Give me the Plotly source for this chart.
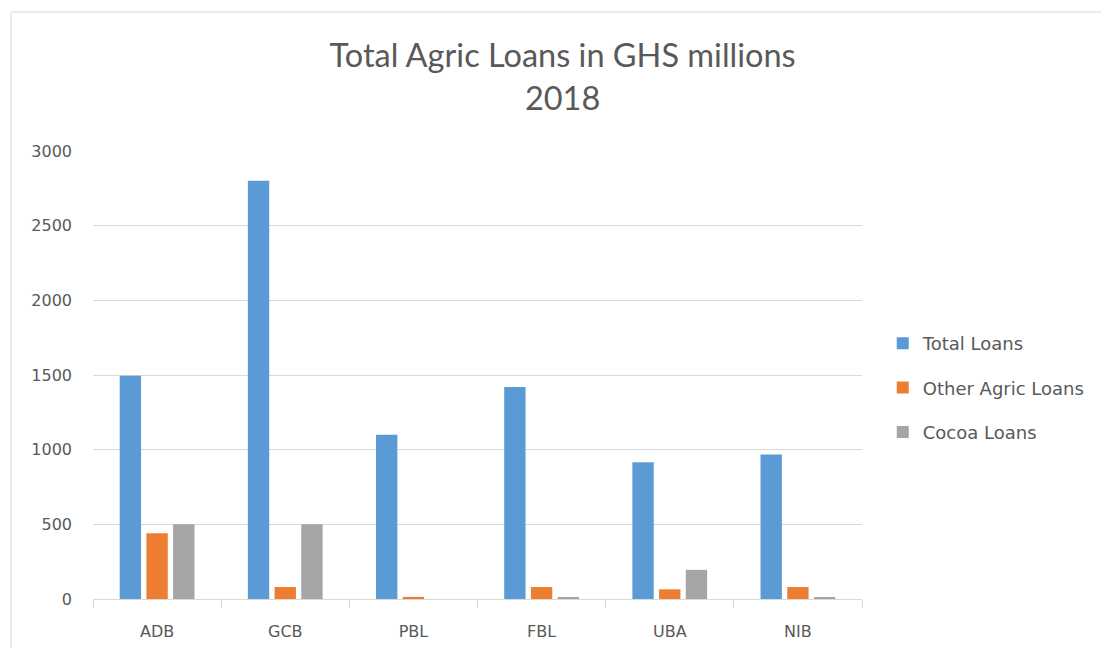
import plotly.graph_objects as go

banks = ["ADB", "GCB", "PBL", "FBL", "UBA", "NIB"]
total_loans = [1495, 2800, 1100, 1420, 915, 967]
other_agric_loans = [440, 80, 14, 80, 65, 80]
cocoa_loans = [500, 500, 0, 12, 195, 12]
y_ticks = [0, 500, 1000, 1500, 2000, 2500, 3000]

series = [
    ("Total Loans", total_loans, "#5B9BD5"),
    ("Other Agric Loans", other_agric_loans, "#ED7D31"),
    ("Cocoa Loans", cocoa_loans, "#A5A5A5"),
]

fig = go.Figure()
for i, (name, vals, col) in enumerate(series):
    fig.add_trace(go.Bar(
        x=banks, y=vals, name=name, marker=dict(color=col, line=dict(width=0)),
        legendgroup=f"g{i}",
    ))

title_fam = "Lato, sans-serif"
tick_fam = "DejaVu Sans, sans-serif"

fig.update_layout(
    width=1101, height=648,
    paper_bgcolor="white", plot_bgcolor="white",
    margin=dict(l=93, r=239, t=151, b=49, autoexpand=False),
    barmode="group", bargap=0.375, bargroupgap=0.2,
    title=dict(
        text="Total Agric Loans in GHS millions<br>2018",
        x=0.511, xanchor="center", y=0.896, yanchor="top",
        font=dict(family=title_fam, size=32.5, color="#595959"),
    ),
    xaxis=dict(
        showline=True, linecolor="#d9d9d9", linewidth=1,
        ticks="outside", tickson="boundaries", ticklen=8, tickcolor="#d9d9d9",
        tickfont=dict(family=tick_fam, size=16, color="#595959"),
        showgrid=False, ticklabelstandoff=18, automargin=False,
    ),
    yaxis=dict(
        range=[0, 3000], tickvals=y_ticks, ticktext=[str(v) for v in y_ticks],
        showgrid=True, gridcolor="#d9d9d9", gridwidth=1, zeroline=False,
        tickfont=dict(family=tick_fam, size=16, color="#595959"),
        ticks="", ticklabelstandoff=20, automargin=False,
    ),
    legend=dict(
        x=1.027, xanchor="left", y=0.471, yanchor="middle",
        traceorder="grouped", tracegroupgap=18,
        font=dict(family=tick_fam, size=18, color="#595959"),
        itemwidth=30,
    ),
    showlegend=True,
)

fig.add_shape(type="rect", xref="paper", yref="paper",
              x0=-82/769, x1=(1101-82+5)/769, y0=-60/448, y1=(599-12)/448,
              line=dict(color="#d9d9d9", width=1), fillcolor="rgba(0,0,0,0)", layer="below")

fig.write_html("out.html")
